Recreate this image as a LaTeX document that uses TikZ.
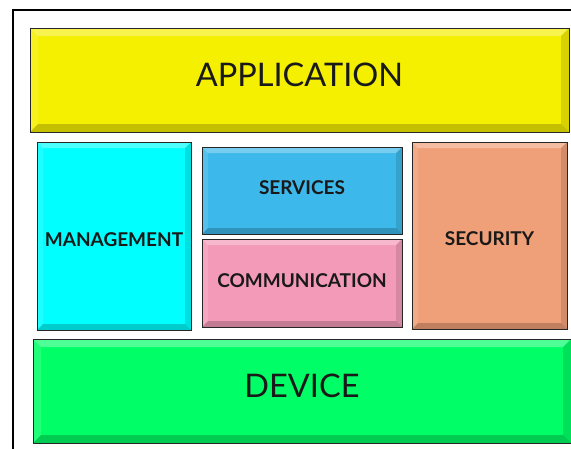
\documentclass[tikz,border=0pt]{standalone}
\usepackage{fontspec}
\setmainfont{Lato}
\usepackage{tikz}
\tikzset{
    layer/.style={rectangle, draw=black!85, line width=1pt, inner sep=0pt,
        align=center, text=black!90,
        path picture={
            \fill[white, opacity=.3] (path picture bounding box.north west)
                -- (path picture bounding box.north east)
                -- ([shift={(-#1,-#1)}]path picture bounding box.north east)
                -- ([shift={(#1,-#1)}]path picture bounding box.north west) -- cycle;
            \fill[white, opacity=.12] (path picture bounding box.north west)
                -- ([shift={(#1,-#1)}]path picture bounding box.north west)
                -- ([shift={(#1,#1)}]path picture bounding box.south west)
                -- (path picture bounding box.south west) -- cycle;
            \fill[black, opacity=.2] (path picture bounding box.south west)
                -- (path picture bounding box.south east)
                -- ([shift={(-#1,#1)}]path picture bounding box.south east)
                -- ([shift={(#1,#1)}]path picture bounding box.south west) -- cycle;
            \fill[black, opacity=.12] (path picture bounding box.north east)
                -- (path picture bounding box.south east)
                -- ([shift={(-#1,#1)}]path picture bounding box.south east)
                -- ([shift={(-#1,-#1)}]path picture bounding box.north east) -- cycle;
        }},
    layer/.default=7pt,
    bigtext/.style={font=\fontsize{32.5}{36}\selectfont, text depth=10pt},
    smalltext/.style={font=\bfseries\fontsize{19}{22}\selectfont}
}
\definecolor{appyellow}{RGB}{245,240,0}
\definecolor{mgmtcyan}{RGB}{0,255,255}
\definecolor{srvblue}{RGB}{61,184,234}
\definecolor{compink}{RGB}{244,154,185}
\definecolor{secsalmon}{RGB}{240,160,120}
\definecolor{devgreen}{RGB}{0,255,102}

\begin{document}
\begin{tikzpicture}[x=1pt, y=1pt]
	\useasboundingbox (0,0) rectangle (571,-448);
	\clip (0,0) rectangle (571,-448);
	\draw[line width=1.5pt] (13,-10) rectangle (590,-470);

	\node (app) [layer=8pt, fill=appyellow, bigtext, minimum width=539pt,
		minimum height=104pt] at (299.5,-80) {APPLICATION};
	\node (mgmt) [layer=6pt, fill=mgmtcyan, smalltext, text height=22pt,
		minimum width=154pt, minimum height=188pt] at (114,-236) {MANAGEMENT};
	\node (srv) [layer=6pt, fill=srvblue, smalltext, text depth=5pt,
		minimum width=200pt, minimum height=87pt] at (302,-190.5) {SERVICES};
	\node (com) [layer=6pt, fill=compink, smalltext, text depth=5pt,
		minimum width=200pt, minimum height=88pt] at (302,-283) {COMMUNICATION};
	\node (sec) [layer=6pt, fill=secsalmon, smalltext, text height=20pt,
		minimum width=155pt, minimum height=187pt] at (489.5,-235.5) {SECURITY};
	\node (dev) [layer=8pt, fill=devgreen, bigtext, minimum width=538pt,
		minimum height=104pt] at (302,-391) {DEVICE};
\end{tikzpicture}
\end{document}
